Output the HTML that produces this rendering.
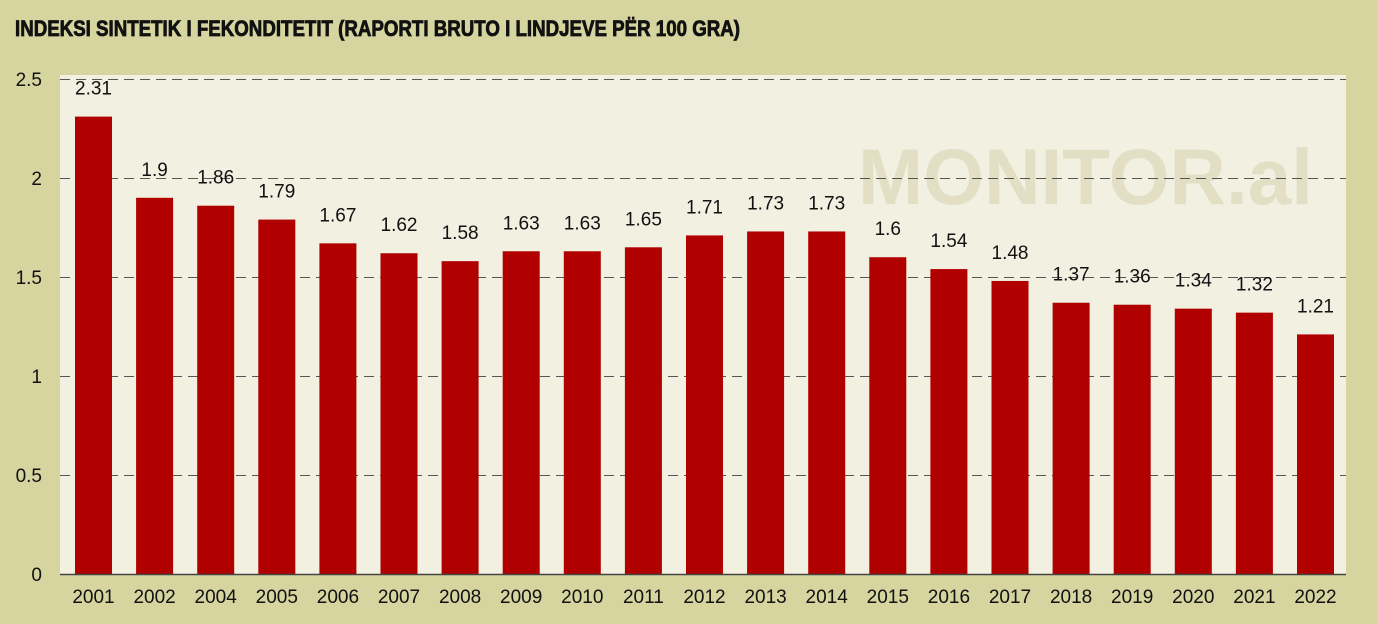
<!DOCTYPE html>
<html><head><meta charset="utf-8"><style>
html,body{margin:0;padding:0;background:#d6d49f;}
svg{display:block;font-family:"Liberation Sans Narrow","Liberation Sans",sans-serif;}
</style></head><body>
<svg id="chart" width="1377" height="624" viewBox="0 0 1377 624">
<rect x="0" y="0" width="1377" height="624" fill="#d6d49f"/>
<text x="15" y="36" font-size="22" font-weight="bold" fill="#111" stroke="#111" stroke-width="0.8" textLength="725" lengthAdjust="spacingAndGlyphs">INDEKSI SINTETIK I FEKONDITETIT (RAPORTI BRUTO I LINDJEVE PËR 100 GRA)</text>
<rect x="60" y="75" width="1286" height="499" fill="#f1f0e1"/>
<text x="858" y="204" font-family="Liberation Sans, sans-serif" font-size="79" font-weight="bold" fill="#e2dfc5" textLength="455" lengthAdjust="spacingAndGlyphs">MONITOR.al</text>
<g id="grid"></g><g id="bars"></g><g id="labels"></g><g id="yticks"></g><g id="xticks"></g>
<line x1="60" y1="574.5" x2="1346" y2="574.5" stroke="#444" stroke-width="1.5"/>
</svg>
<script>
const categories=["2001","2002","2004","2005","2006","2007","2008","2009","2010","2011","2012","2013","2014","2015","2016","2017","2018","2019","2020","2021","2022"];
const values=[2.31,1.9,1.86,1.79,1.67,1.62,1.58,1.63,1.63,1.65,1.71,1.73,1.73,1.6,1.54,1.48,1.37,1.36,1.34,1.32,1.21];
const valueLabels=["2.31","1.9","1.86","1.79","1.67","1.62","1.58","1.63","1.63","1.65","1.71","1.73","1.73","1.6","1.54","1.48","1.37","1.36","1.34","1.32","1.21"];
const yTicks=[0,0.5,1,1.5,2,2.5];
const yTickLabels=["0","0.5","1","1.5","2","2.5"];
const NS="http://www.w3.org/2000/svg";
const y0=574,yPerUnit=198;
function yScale(v){return y0-v*yPerUnit;}
function xCenter(i){return 93.5+i*61.1;}
const barW=37;
function mk(tag,attrs,parent){const e=document.createElementNS(NS,tag);for(const k in attrs)e.setAttribute(k,attrs[k]);document.getElementById(parent).appendChild(e);return e;}
yTicks.forEach((t,i)=>{
  const y=yScale(t);
  if(t>0){const g=mk("line",{x1:60,x2:1346,y1:y+0.5,y2:y+0.5,stroke:"#555","stroke-width":1,"stroke-dasharray":"10,6"},"grid");
  
  }
  const tl=mk("text",{x:42,y:y+7,"font-size":19,"text-anchor":"end",fill:"#111"},"yticks");
  tl.textContent=yTickLabels[i];
  
  
});
categories.forEach((c,i)=>{
  const cx=xCenter(i),y=yScale(values[i]);
  const b=mk("rect",{x:cx-barW/2,y:y,width:barW,height:y0-y,fill:"#b00000"},"bars");
  
  
  const l=mk("text",{x:cx,y:y-22,"font-size":19,"text-anchor":"middle",fill:"#111"},"labels");
  l.textContent=valueLabels[i];
  
  
  const xl=mk("text",{x:cx,y:603,"font-size":19,"text-anchor":"middle",fill:"#111"},"xticks");
  xl.textContent=c;
  
  
});
</script>
</body></html>
